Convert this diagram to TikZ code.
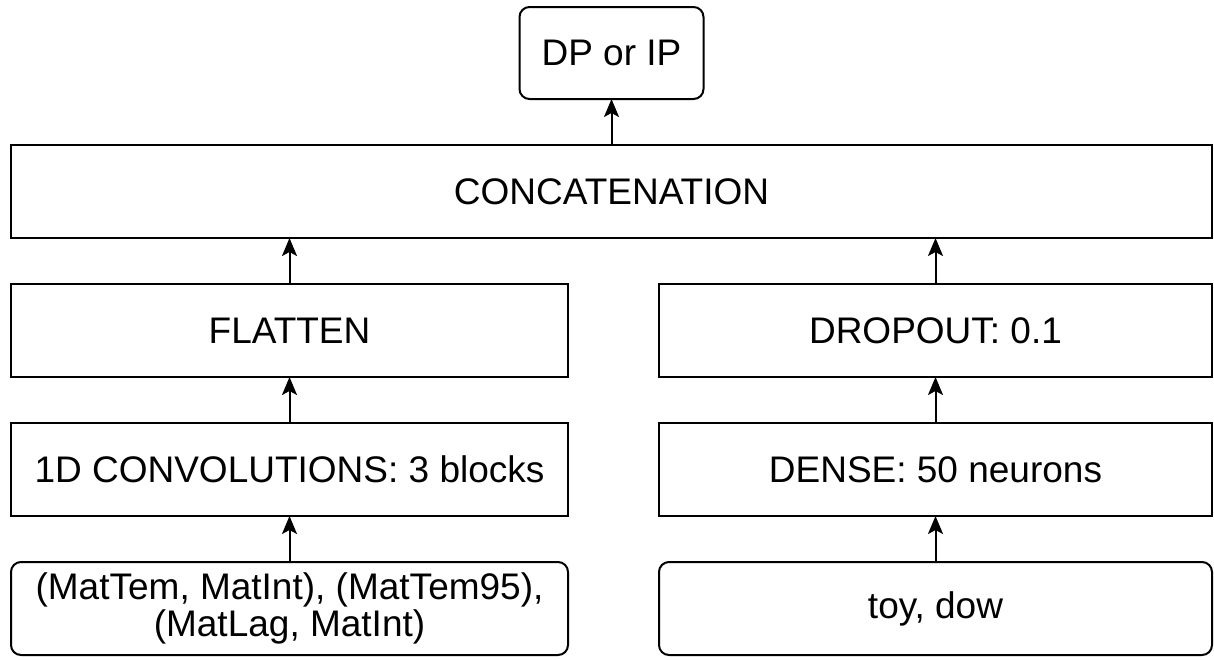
\documentclass[tikz,border=0pt]{standalone}
\usepackage{fontspec}
\setmainfont{Liberation Sans}
\usepackage{tikz}
\usetikzlibrary{arrows.meta,positioning}

\begin{document}
\begin{tikzpicture}[
  font=\fontsize{18.5}{18.5}\selectfont, >={Stealth[length=9pt,width=7.5pt,inset=2pt]},
  line width=1pt,
  node distance=23pt,
  box/.style={draw, align=center, inner sep=2pt, outer sep=0pt, minimum height=46.5pt},
  wide/.style={box, minimum width=600.5pt},
  lft/.style={box, minimum width=278.5pt},
  rgt/.style={box, minimum width=276.5pt},
  inp/.style={box, rounded corners=5pt, minimum height=46pt},
]
\useasboundingbox (0,0) rectangle (607pt,-329.5pt);

\node[wide] (concat) at (305.75pt,-95.75pt) {CONCATENATION};
\node[box, rounded corners=5pt, minimum width=92pt, minimum height=46pt, above=23pt of concat] (out) {DP or IP};

\node[lft, below right=23pt and 0pt of concat.south west] (flat) {FLATTEN};
\node[rgt, below left=23pt and 0pt of concat.south east] (drop) {DROPOUT: 0.1};

\node[lft, below=of flat] (conv) {1D CONVOLUTIONS: 3 blocks};
\node[rgt, below=of drop] (dense) {DENSE: 50 neurons};

\node[inp, lft, rounded corners=5pt, below=of conv] (mats) {(MatTem, MatInt), (MatTem95),\\(MatLag, MatInt)};
\node[inp, rgt, rounded corners=5pt, below=of dense] (cal) {toy, dow};

\draw[->] (mats) -- (conv);
\draw[->] (conv) -- (flat);
\draw[->] (flat) -- (flat |- concat.south);
\draw[->] (cal) -- (dense);
\draw[->] (dense) -- (drop);
\draw[->] (drop) -- (drop |- concat.south);
\draw[->] (concat) -- (out);
\end{tikzpicture}
\end{document}
